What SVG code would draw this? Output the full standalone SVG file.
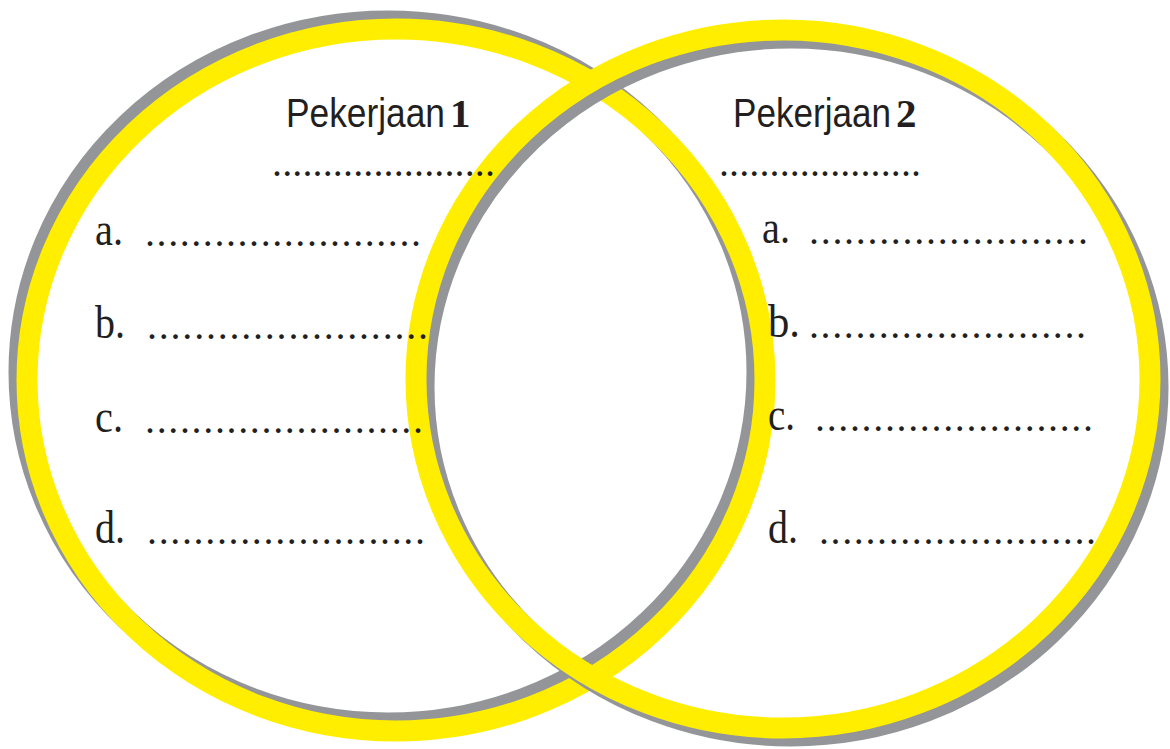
<svg xmlns="http://www.w3.org/2000/svg" width="1170" height="749" viewBox="0 0 1170 749">
<style>
.ring{fill:none;stroke:#FFEE00;stroke-width:21}
.shadow{fill:none;stroke:#939598;stroke-width:21}
.title{font-family:"Liberation Sans","Open Sans",sans-serif;font-size:40px;fill:#231F20}
.num{font-family:"Liberation Serif",serif;font-weight:bold;font-size:41px;fill:#231F20}
.lbl{font-family:"Liberation Serif",serif;font-size:47px;fill:#231F20}
.dots{font-family:"Liberation Serif",serif;font-size:40px;fill:#231F20}
</style>
<rect width="1170" height="749" fill="#ffffff"/>
<g id="circle-left">
<ellipse class="shadow" cx="388" cy="372" rx="369" ry="351"/>
<ellipse class="ring" cx="396" cy="380" rx="369" ry="351"/>
</g>
<g id="circle-right">
<ellipse class="shadow" cx="791" cy="387" rx="367" ry="349"/>
<ellipse class="ring" cx="783" cy="379" rx="367" ry="349"/>
</g>
<g id="connectors"></g>
<g id="set-left">
<text class="title" transform="matrix(0.883 0 0 1 286 127)">Pekerjaan</text>
<text class="num" x="450" y="127">1</text>
<text class="dots" x="272" y="176" textLength="223" lengthAdjust="spacing">......................</text>
<text class="lbl" x="95" y="245" textLength="28" lengthAdjust="spacingAndGlyphs">a.</text>
<text class="dots" x="145" y="246" textLength="276" lengthAdjust="spacing">........................</text>
<text class="lbl" x="95" y="338" textLength="30" lengthAdjust="spacingAndGlyphs">b.</text>
<text class="dots" x="147" y="339" textLength="281" lengthAdjust="spacing">........................</text>
<text class="lbl" x="95" y="432" textLength="28" lengthAdjust="spacingAndGlyphs">c.</text>
<text class="dots" x="145" y="433" textLength="278" lengthAdjust="spacing">........................</text>
<text class="lbl" x="95" y="543" textLength="30" lengthAdjust="spacingAndGlyphs">d.</text>
<text class="dots" x="147" y="544" textLength="278" lengthAdjust="spacing">........................</text>
</g>
<g id="set-right">
<text class="title" transform="matrix(0.878 0 0 1 733 127)">Pekerjaan</text>
<text class="num" x="896" y="127">2</text>
<text class="dots" x="719" y="176" textLength="202" lengthAdjust="spacing">....................</text>
<text class="lbl" x="762" y="243" textLength="28" lengthAdjust="spacingAndGlyphs">a.</text>
<text class="dots" x="809" y="244" textLength="279" lengthAdjust="spacing">........................</text>
<text class="lbl" x="768" y="337" textLength="32" lengthAdjust="spacingAndGlyphs">b.</text>
<text class="dots" x="809" y="338" textLength="277" lengthAdjust="spacing">........................</text>
<text class="lbl" x="768" y="430" textLength="27" lengthAdjust="spacingAndGlyphs">c.</text>
<text class="dots" x="815" y="431" textLength="278" lengthAdjust="spacing">........................</text>
<text class="lbl" x="768" y="543" textLength="30" lengthAdjust="spacingAndGlyphs">d.</text>
<text class="dots" x="819" y="544" textLength="277" lengthAdjust="spacing">........................</text>
</g>
</svg>
